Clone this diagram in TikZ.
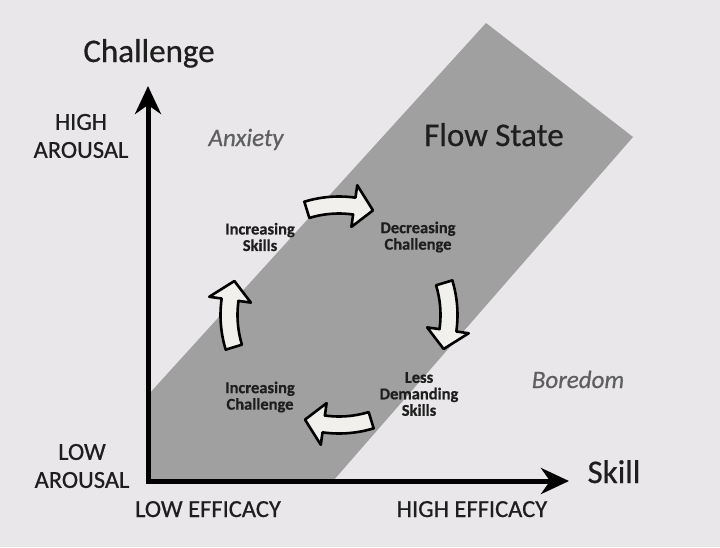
\documentclass[tikz,border=0pt]{standalone}
\usepackage{fontspec}
\setmainfont{Carlito}[FakeBold=0.6]
\usetikzlibrary{arrows.meta,calc}
\definecolor{bgc}{RGB}{233,231,234}
\definecolor{bandc}{RGB}{161,160,161}
\definecolor{txt}{RGB}{30,30,30}
\definecolor{moodc}{RGB}{95,95,95}
\definecolor{arrowfill}{RGB}{241,240,237}
\begin{document}
\begin{tikzpicture}[x=1pt,y=-1pt,
  axislabel/.style={text=txt, font=\fontsize{24.5}{28}\selectfont, inner sep=0pt, align=center},
  title/.style={text=txt, font=\fontsize{33}{36}\selectfont, inner sep=0pt},
  mood/.style={text=moodc, font=\itshape\fontsize{25}{28}\selectfont, inner sep=0pt},
  stage/.style={text=txt, font=\bfseries\fontsize{16.5}{16.5}\selectfont, inner sep=0pt, align=center},
  cyc/.style={draw=black, fill=arrowfill, line width=2.6pt, line join=round},
  axisline/.style={line width=5pt, line join=miter,
    {Stealth[length=28pt,width=26pt,inset=9pt]}-{Stealth[length=28pt,width=26pt,inset=9pt]}}
]
\useasboundingbox (0,0) rectangle (720,547);
\fill[bgc] (0,0) rectangle (720,547);

% flow band
\fill[bandc] (486,23) -- (633,137) -- (333,481) -- (148,481) -- (148,395) -- cycle;

% axes
\coordinate (O) at (148,481);
\coordinate (ytip) at (148,86);
\coordinate (xtip) at (569,481);
\draw[axisline] (ytip) -- (O) -- (xtip);

% axis labels
\node[title, anchor=base] (challenge) at (149,62) {Challenge};
\node[title, anchor=base] (skill) at (614,483) {Skill};
\node[axislabel] (higharousal) at (81,136) {HIGH\\AROUSAL};
\node[axislabel] (lowarousal) at (82,466) {LOW\\AROUSAL};
\node[axislabel, anchor=base] (loweff) at (208,517) {LOW EFFICACY};
\node[axislabel, anchor=base] (higheff) at (472,517) {HIGH EFFICACY};

% region labels
\node[mood, anchor=base] (anxiety) at (246,146) {Anxiety};
\node[mood, anchor=base] (boredom) at (578,388) {Boredom};
\node[title, anchor=base] (flow) at (494,146) {Flow State};

% cycle stage labels
\node[stage] (incskills) at (260,237) {Increasing\\Skills};
\node[stage] (decchal) at (418,237) {Decreasing\\Challenge};
\node[stage] (lessdem) at (419,394) {Less\\Demanding\\Skills};
\node[stage] (incchal) at (260,397) {Increasing\\Challenge};

% cycle arrows
\foreach \a [evaluate=\a as \ts using {\a-107}, evaluate=\a as \hb using {\a-82}, evaluate=\a as \tp using {\a-72}] in {0,90,180,270}{
  \draw[cyc] plot[domain=\ts:\hb, samples=12] ({339+118.5*cos(\x)},{315+118.5*sin(\x)})
    -- ({339+131*cos(\hb)},{315+131*sin(\hb)})
    -- ({339+110*cos(\tp)},{315+110*sin(\tp)})
    -- ({339+89*cos(\hb)},{315+89*sin(\hb)})
    -- ({339+101.5*cos(\hb)},{315+101.5*sin(\hb)})
    -- plot[domain=\hb:\ts, samples=12] ({339+101.5*cos(\x)},{315+101.5*sin(\x)}) -- cycle;
}
\end{tikzpicture}
\end{document}
